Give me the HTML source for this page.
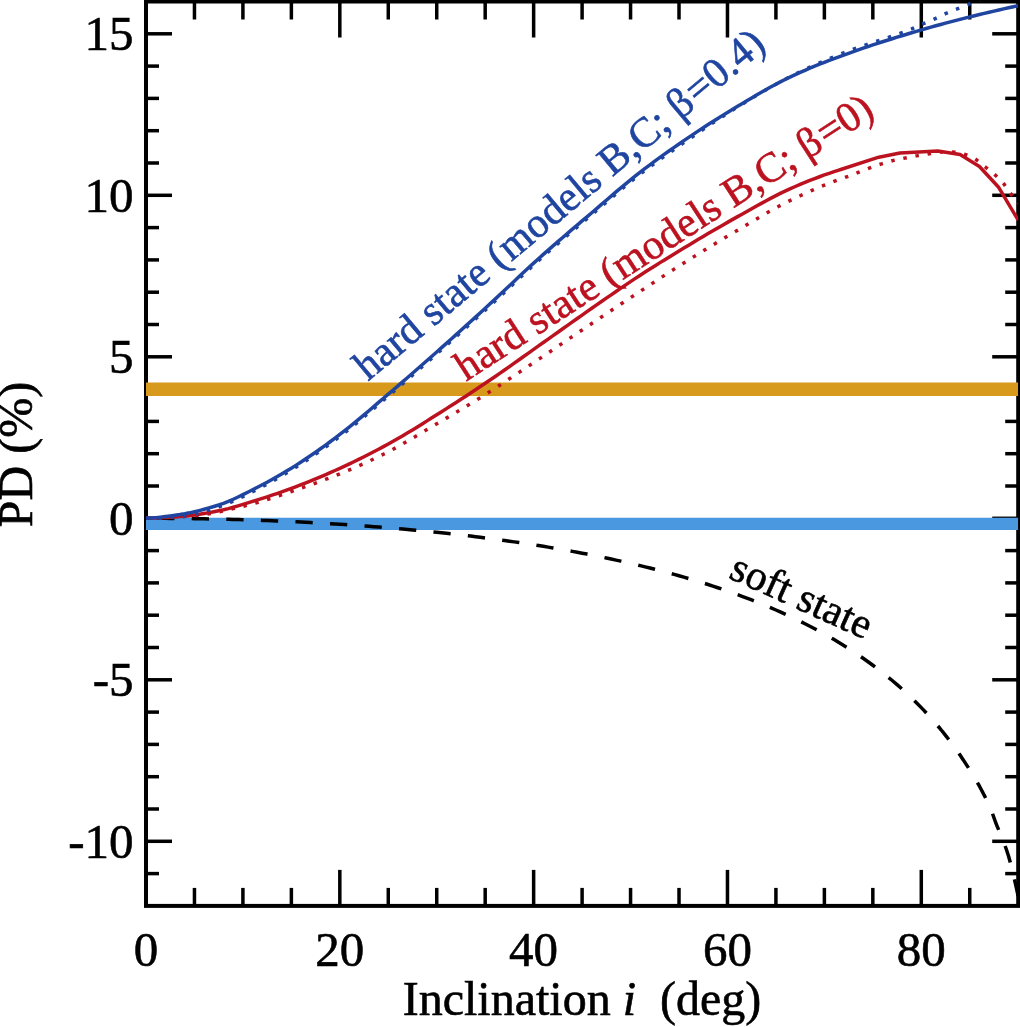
<!DOCTYPE html>
<html><head><meta charset="utf-8"><title>PD vs inclination</title>
<style>
html,body{margin:0;padding:0;background:#fff;}
svg{display:block;}
text{font-family:"Liberation Serif","DejaVu Serif",serif;}
</style></head>
<body>
<svg width="1020" height="1027" viewBox="0 0 1020 1027">
<rect width="1020" height="1027" fill="#fff"/>
<defs><clipPath id="plot"><rect x="146.00" y="1.50" width="872.20" height="904.40"/></clipPath></defs>
<g fill="none" stroke="#000" stroke-width="4">
<rect x="146.00" y="1.50" width="872.20" height="904.40"/>
</g>
<g fill="none" stroke="#000" stroke-width="3.5">
<line x1="194.46" y1="1.50" x2="194.46" y2="19.50"/><line x1="194.46" y1="905.90" x2="194.46" y2="887.90"/><line x1="242.91" y1="1.50" x2="242.91" y2="19.50"/><line x1="242.91" y1="905.90" x2="242.91" y2="887.90"/><line x1="291.37" y1="1.50" x2="291.37" y2="19.50"/><line x1="291.37" y1="905.90" x2="291.37" y2="887.90"/><line x1="339.82" y1="1.50" x2="339.82" y2="37.50"/><line x1="339.82" y1="905.90" x2="339.82" y2="869.90"/><line x1="388.28" y1="1.50" x2="388.28" y2="19.50"/><line x1="388.28" y1="905.90" x2="388.28" y2="887.90"/><line x1="436.73" y1="1.50" x2="436.73" y2="19.50"/><line x1="436.73" y1="905.90" x2="436.73" y2="887.90"/><line x1="485.19" y1="1.50" x2="485.19" y2="19.50"/><line x1="485.19" y1="905.90" x2="485.19" y2="887.90"/><line x1="533.64" y1="1.50" x2="533.64" y2="37.50"/><line x1="533.64" y1="905.90" x2="533.64" y2="869.90"/><line x1="582.10" y1="1.50" x2="582.10" y2="19.50"/><line x1="582.10" y1="905.90" x2="582.10" y2="887.90"/><line x1="630.56" y1="1.50" x2="630.56" y2="19.50"/><line x1="630.56" y1="905.90" x2="630.56" y2="887.90"/><line x1="679.01" y1="1.50" x2="679.01" y2="19.50"/><line x1="679.01" y1="905.90" x2="679.01" y2="887.90"/><line x1="727.47" y1="1.50" x2="727.47" y2="37.50"/><line x1="727.47" y1="905.90" x2="727.47" y2="869.90"/><line x1="775.92" y1="1.50" x2="775.92" y2="19.50"/><line x1="775.92" y1="905.90" x2="775.92" y2="887.90"/><line x1="824.38" y1="1.50" x2="824.38" y2="19.50"/><line x1="824.38" y1="905.90" x2="824.38" y2="887.90"/><line x1="872.83" y1="1.50" x2="872.83" y2="19.50"/><line x1="872.83" y1="905.90" x2="872.83" y2="887.90"/><line x1="921.29" y1="1.50" x2="921.29" y2="37.50"/><line x1="921.29" y1="905.90" x2="921.29" y2="869.90"/><line x1="969.74" y1="1.50" x2="969.74" y2="19.50"/><line x1="969.74" y1="905.90" x2="969.74" y2="887.90"/><line x1="146.00" y1="873.60" x2="159.00" y2="873.60"/><line x1="1018.20" y1="873.60" x2="1005.20" y2="873.60"/><line x1="146.00" y1="841.30" x2="172.00" y2="841.30"/><line x1="1018.20" y1="841.30" x2="992.20" y2="841.30"/><line x1="146.00" y1="809.00" x2="159.00" y2="809.00"/><line x1="1018.20" y1="809.00" x2="1005.20" y2="809.00"/><line x1="146.00" y1="776.70" x2="159.00" y2="776.70"/><line x1="1018.20" y1="776.70" x2="1005.20" y2="776.70"/><line x1="146.00" y1="744.40" x2="159.00" y2="744.40"/><line x1="1018.20" y1="744.40" x2="1005.20" y2="744.40"/><line x1="146.00" y1="712.10" x2="159.00" y2="712.10"/><line x1="1018.20" y1="712.10" x2="1005.20" y2="712.10"/><line x1="146.00" y1="679.80" x2="172.00" y2="679.80"/><line x1="1018.20" y1="679.80" x2="992.20" y2="679.80"/><line x1="146.00" y1="647.50" x2="159.00" y2="647.50"/><line x1="1018.20" y1="647.50" x2="1005.20" y2="647.50"/><line x1="146.00" y1="615.20" x2="159.00" y2="615.20"/><line x1="1018.20" y1="615.20" x2="1005.20" y2="615.20"/><line x1="146.00" y1="582.90" x2="159.00" y2="582.90"/><line x1="1018.20" y1="582.90" x2="1005.20" y2="582.90"/><line x1="146.00" y1="550.60" x2="159.00" y2="550.60"/><line x1="1018.20" y1="550.60" x2="1005.20" y2="550.60"/><line x1="146.00" y1="518.30" x2="172.00" y2="518.30"/><line x1="1018.20" y1="518.30" x2="992.20" y2="518.30"/><line x1="146.00" y1="486.00" x2="159.00" y2="486.00"/><line x1="1018.20" y1="486.00" x2="1005.20" y2="486.00"/><line x1="146.00" y1="453.70" x2="159.00" y2="453.70"/><line x1="1018.20" y1="453.70" x2="1005.20" y2="453.70"/><line x1="146.00" y1="421.40" x2="159.00" y2="421.40"/><line x1="1018.20" y1="421.40" x2="1005.20" y2="421.40"/><line x1="146.00" y1="389.10" x2="159.00" y2="389.10"/><line x1="1018.20" y1="389.10" x2="1005.20" y2="389.10"/><line x1="146.00" y1="356.80" x2="172.00" y2="356.80"/><line x1="1018.20" y1="356.80" x2="992.20" y2="356.80"/><line x1="146.00" y1="324.50" x2="159.00" y2="324.50"/><line x1="1018.20" y1="324.50" x2="1005.20" y2="324.50"/><line x1="146.00" y1="292.20" x2="159.00" y2="292.20"/><line x1="1018.20" y1="292.20" x2="1005.20" y2="292.20"/><line x1="146.00" y1="259.90" x2="159.00" y2="259.90"/><line x1="1018.20" y1="259.90" x2="1005.20" y2="259.90"/><line x1="146.00" y1="227.60" x2="159.00" y2="227.60"/><line x1="1018.20" y1="227.60" x2="1005.20" y2="227.60"/><line x1="146.00" y1="195.30" x2="172.00" y2="195.30"/><line x1="1018.20" y1="195.30" x2="992.20" y2="195.30"/><line x1="146.00" y1="163.00" x2="159.00" y2="163.00"/><line x1="1018.20" y1="163.00" x2="1005.20" y2="163.00"/><line x1="146.00" y1="130.70" x2="159.00" y2="130.70"/><line x1="1018.20" y1="130.70" x2="1005.20" y2="130.70"/><line x1="146.00" y1="98.40" x2="159.00" y2="98.40"/><line x1="1018.20" y1="98.40" x2="1005.20" y2="98.40"/><line x1="146.00" y1="66.10" x2="159.00" y2="66.10"/><line x1="1018.20" y1="66.10" x2="1005.20" y2="66.10"/><line x1="146.00" y1="33.80" x2="172.00" y2="33.80"/><line x1="1018.20" y1="33.80" x2="992.20" y2="33.80"/>
</g>
<g fill="none" clip-path="url(#plot)" stroke-linejoin="round">
<line x1="146.0" y1="389.25" x2="1018.2" y2="389.25" stroke="#D79A1D" stroke-width="13.3"/>
<line x1="146.0" y1="523.9" x2="1018.2" y2="523.9" stroke="#4A98DF" stroke-width="12.2"/>
<path d="M146.00,518.30 L150.85,518.30 L155.69,518.31 L160.54,518.33 L165.38,518.36 L170.23,518.39 L175.07,518.43 L179.92,518.48 L184.76,518.53 L189.61,518.59 L194.46,518.66 L199.30,518.74 L204.15,518.82 L208.99,518.91 L213.84,519.01 L218.68,519.12 L223.53,519.23 L228.37,519.35 L233.22,519.48 L238.07,519.61 L242.91,519.76 L247.76,519.91 L252.60,520.07 L257.45,520.23 L262.29,520.41 L267.14,520.59 L271.98,520.78 L276.83,520.97 L281.68,521.18 L286.52,521.39 L291.37,521.61 L296.21,521.84 L301.06,522.08 L305.90,522.32 L310.75,522.58 L315.59,522.84 L320.44,523.11 L325.29,523.39 L330.13,523.67 L334.98,523.97 L339.82,524.27 L344.67,524.58 L349.51,524.91 L354.36,525.24 L359.20,525.57 L364.05,525.92 L368.90,526.28 L373.74,526.65 L378.59,527.02 L383.43,527.41 L388.28,527.80 L393.12,528.21 L397.97,528.62 L402.81,529.05 L407.66,529.48 L412.51,529.93 L417.35,530.39 L422.20,530.85 L427.04,531.33 L431.89,531.82 L436.73,532.32 L441.58,532.83 L446.42,533.35 L451.27,533.88 L456.12,534.42 L460.96,534.97 L465.81,535.54 L470.65,536.11 L475.50,536.70 L480.34,537.30 L485.19,537.92 L490.03,538.54 L494.88,539.18 L499.73,539.83 L504.57,540.50 L509.42,541.18 L514.26,541.87 L519.11,542.58 L523.95,543.30 L528.80,544.03 L533.64,544.78 L538.49,545.55 L543.34,546.33 L548.18,547.13 L553.03,547.94 L557.87,548.77 L562.72,549.61 L567.56,550.47 L572.41,551.35 L577.25,552.24 L582.10,553.16 L586.95,554.09 L591.79,555.04 L596.64,556.01 L601.48,557.00 L606.33,558.01 L611.17,559.04 L616.02,560.09 L620.86,561.16 L625.71,562.26 L630.56,563.37 L635.40,564.50 L640.25,565.66 L645.09,566.84 L649.94,568.04 L654.78,569.27 L659.63,570.52 L664.47,571.80 L669.32,573.10 L674.17,574.43 L679.01,575.78 L683.86,577.17 L688.70,578.58 L693.55,580.02 L698.39,581.50 L703.24,583.00 L708.08,584.54 L712.93,586.12 L717.78,587.72 L722.62,589.36 L727.47,591.04 L732.31,592.75 L737.16,594.50 L742.00,596.29 L746.85,598.11 L751.69,599.98 L756.54,601.90 L761.39,603.85 L766.23,605.86 L771.08,607.91 L775.92,610.01 L780.77,612.17 L785.61,614.37 L790.46,616.62 L795.30,618.93 L800.15,621.29 L805.00,623.71 L809.84,626.19 L814.69,628.74 L819.53,631.35 L824.38,634.03 L829.22,636.78 L834.07,639.61 L838.91,642.51 L843.76,645.49 L848.61,648.56 L853.45,651.71 L858.30,654.94 L863.14,658.27 L867.99,661.70 L872.83,665.23 L877.68,668.88 L882.52,672.64 L887.37,676.52 L892.22,680.52 L897.06,684.66 L901.91,688.94 L906.75,693.38 L911.60,697.96 L916.44,702.70 L921.29,707.61 L922.26,708.61 L923.23,709.63 L924.20,710.65 L925.17,711.68 L926.13,712.71 L927.10,713.76 L928.07,714.81 L929.04,715.88 L930.01,716.95 L930.98,718.03 L931.95,719.12 L932.92,720.22 L933.89,721.33 L934.86,722.45 L935.83,723.57 L936.79,724.71 L937.76,725.85 L938.73,727.00 L939.70,728.16 L940.67,729.33 L941.64,730.51 L942.61,731.70 L943.58,732.90 L944.55,734.11 L945.52,735.33 L946.49,736.56 L947.45,737.80 L948.42,739.06 L949.39,740.32 L950.36,741.60 L951.33,742.89 L952.30,744.19 L953.27,745.51 L954.24,746.84 L955.21,748.18 L956.18,749.54 L957.15,750.91 L958.12,752.29 L959.08,753.69 L960.05,755.11 L961.02,756.54 L961.99,757.98 L962.96,759.44 L963.93,760.91 L964.90,762.39 L965.87,763.87 L966.84,765.36 L967.81,766.86 L968.78,768.37 L969.74,769.90 L970.71,771.44 L971.68,773.00 L972.65,774.57 L973.62,776.17 L974.59,777.78 L975.56,779.42 L976.53,781.08 L977.50,782.76 L978.47,784.47 L979.44,786.21 L980.40,787.98 L981.37,789.78 L982.34,791.61 L983.31,793.47 L984.28,795.37 L985.25,797.31 L986.22,799.28 L987.19,801.29 L988.16,803.35 L989.13,805.44 L990.10,807.58 L991.06,809.83 L992.03,812.33 L993.00,815.00 L993.97,817.75 L994.94,820.47 L995.91,823.07 L996.88,825.56 L997.85,827.97 L998.82,830.32 L999.79,832.64 L1000.76,834.96 L1001.73,837.29 L1002.69,839.66 L1003.66,842.10 L1004.63,844.62 L1005.60,847.26 L1006.57,850.03 L1007.54,852.97 L1008.51,856.08 L1009.48,859.40 L1010.45,862.92 L1011.42,866.62 L1012.39,870.49 L1013.35,874.52 L1014.32,878.70 L1015.29,883.01 L1016.26,887.44 L1017.23,891.99 L1018.20,896.63" stroke="#000" stroke-width="3.5" stroke-dasharray="17.3 17.3" stroke-dashoffset="23.5"/>
<path d="M146.00,518.30 L150.85,518.26 L155.69,518.16 L160.54,518.00 L165.38,517.78 L170.23,517.51 L175.07,517.21 L179.92,516.87 L184.76,516.50 L189.61,516.12 L194.46,515.72 L199.30,515.23 L204.15,514.59 L208.99,513.82 L213.84,512.94 L218.68,511.96 L223.53,510.91 L228.37,509.81 L233.22,508.66 L238.07,507.51 L242.91,506.35 L247.76,505.15 L252.60,503.85 L257.45,502.47 L262.29,501.02 L267.14,499.51 L271.98,497.95 L276.83,496.36 L281.68,494.74 L286.52,493.12 L291.37,491.49 L296.21,489.86 L301.06,488.20 L305.90,486.52 L310.75,484.81 L315.59,483.07 L320.44,481.29 L325.29,479.48 L330.13,477.64 L334.98,475.75 L339.82,473.83 L344.67,471.86 L349.51,469.85 L354.36,467.78 L359.20,465.66 L364.05,463.48 L368.90,461.25 L373.74,458.96 L378.59,456.61 L383.43,454.22 L388.28,451.76 L393.12,449.22 L397.97,446.58 L402.81,443.86 L407.66,441.07 L412.51,438.23 L417.35,435.35 L422.20,432.46 L427.04,429.57 L431.89,426.70 L436.73,423.85 L441.58,421.00 L446.42,418.13 L451.27,415.26 L456.12,412.38 L460.96,409.47 L465.81,406.55 L470.65,403.60 L475.50,400.63 L480.34,397.63 L485.19,394.59 L490.03,391.51 L494.88,388.39 L499.73,385.23 L504.57,382.05 L509.42,378.83 L514.26,375.60 L519.11,372.36 L523.95,369.11 L528.80,365.86 L533.64,362.62 L538.49,359.38 L543.34,356.13 L548.18,352.87 L553.03,349.60 L557.87,346.33 L562.72,343.05 L567.56,339.78 L572.41,336.51 L577.25,333.24 L582.10,329.99 L586.95,326.74 L591.79,323.49 L596.64,320.25 L601.48,317.00 L606.33,313.76 L611.17,310.52 L616.02,307.29 L620.86,304.07 L625.71,300.86 L630.56,297.65 L635.40,294.46 L640.25,291.27 L645.09,288.09 L649.94,284.91 L654.78,281.73 L659.63,278.56 L664.47,275.40 L669.32,272.26 L674.17,269.14 L679.01,266.03 L683.86,262.95 L688.70,259.90 L693.55,256.87 L698.39,253.86 L703.24,250.87 L708.08,247.89 L712.93,244.94 L717.78,242.00 L722.62,239.08 L727.47,236.18 L732.31,233.30 L737.16,230.43 L742.00,227.57 L746.85,224.68 L751.69,221.78 L756.54,218.90 L761.39,216.04 L766.23,213.22 L771.08,210.46 L775.92,207.79 L780.77,205.20 L785.61,202.73 L790.46,200.34 L795.30,198.00 L800.15,195.72 L805.00,193.48 L809.84,191.30 L814.69,189.18 L819.53,187.11 L824.38,185.11 L829.22,183.16 L834.07,181.28 L838.91,179.51 L843.76,177.89 L848.61,176.17 L853.45,174.29 L858.30,172.33 L863.14,170.39 L867.99,168.54 L872.83,166.83 L877.68,165.15 L882.52,163.54 L887.37,162.06 L892.22,160.74 L897.06,159.62 L901.91,158.64 L906.75,157.68 L911.60,156.77 L916.44,155.89 L921.29,155.06 L926.13,154.27 L930.98,153.42 L935.83,152.47 L940.67,152.02 L945.52,152.02 L950.36,152.02 L955.21,152.21 L960.05,153.13 L964.90,154.34 L969.74,156.11 L974.59,158.48 L979.44,162.04 L984.28,166.23 L989.13,170.01 L993.97,173.98 L998.82,178.33 L1003.66,183.58 L1008.51,190.70 L1013.35,197.12 L1018.20,203.38" stroke="#BC1220" stroke-width="3.5" stroke-dasharray="3.5 8.8"/>
<path d="M146.00,518.30 L150.85,518.23 L155.69,518.09 L160.54,517.87 L165.38,517.61 L170.23,517.30 L175.07,516.96 L179.92,516.61 L184.76,516.18 L189.61,515.64 L194.46,515.00 L199.30,514.28 L204.15,513.49 L208.99,512.64 L213.84,511.74 L218.68,510.81 L223.53,509.78 L228.37,508.60 L233.22,507.30 L238.07,505.90 L242.91,504.44 L247.76,502.93 L252.60,501.40 L257.45,499.89 L262.29,498.37 L267.14,496.81 L271.98,495.20 L276.83,493.56 L281.68,491.87 L286.52,490.15 L291.37,488.38 L296.21,486.58 L301.06,484.73 L305.90,482.84 L310.75,480.89 L315.59,478.90 L320.44,476.87 L325.29,474.79 L330.13,472.67 L334.98,470.52 L339.82,468.32 L344.67,466.09 L349.51,463.81 L354.36,461.49 L359.20,459.12 L364.05,456.71 L368.90,454.26 L373.74,451.76 L378.59,449.22 L383.43,446.63 L388.28,444.00 L393.12,441.32 L397.97,438.56 L402.81,435.73 L407.66,432.84 L412.51,429.90 L417.35,426.91 L422.20,423.90 L427.04,420.86 L431.89,417.81 L436.73,414.75 L441.58,411.70 L446.42,408.64 L451.27,405.55 L456.12,402.44 L460.96,399.32 L465.81,396.16 L470.65,392.99 L475.50,389.79 L480.34,386.57 L485.19,383.33 L490.03,380.06 L494.88,376.75 L499.73,373.40 L504.57,370.02 L509.42,366.61 L514.26,363.18 L519.11,359.73 L523.95,356.28 L528.80,352.83 L533.64,349.38 L538.49,345.94 L543.34,342.52 L548.18,339.09 L553.03,335.65 L557.87,332.21 L562.72,328.76 L567.56,325.32 L572.41,321.89 L577.25,318.47 L582.10,315.06 L586.95,311.67 L591.79,308.29 L596.64,304.92 L601.48,301.55 L606.33,298.18 L611.17,294.82 L616.02,291.48 L620.86,288.16 L625.71,284.86 L630.56,281.61 L635.40,278.39 L640.25,275.22 L645.09,272.09 L649.94,268.99 L654.78,265.93 L659.63,262.89 L664.47,259.89 L669.32,256.90 L674.17,253.94 L679.01,251.00 L683.86,248.07 L688.70,245.15 L693.55,242.25 L698.39,239.35 L703.24,236.47 L708.08,233.61 L712.93,230.76 L717.78,227.94 L722.62,225.14 L727.47,222.36 L732.31,219.61 L737.16,216.89 L742.00,214.20 L746.85,211.48 L751.69,208.76 L756.54,206.05 L761.39,203.36 L766.23,200.70 L771.08,198.11 L775.92,195.59 L780.77,193.15 L785.61,190.83 L790.46,188.63 L795.30,186.51 L800.15,184.44 L805.00,182.42 L809.84,180.47 L814.69,178.57 L819.53,176.74 L824.38,174.97 L829.22,173.28 L834.07,171.66 L838.91,170.11 L839.98,169.78 L878.84,157.19 L899.97,152.99 L937.76,151.05 L960.05,154.60 L979.44,166.55 L998.82,187.55 L1018.20,220.17" stroke="#BC1220" stroke-width="3.5"/>
<path d="M146.00,518.30 L150.85,518.25 L155.69,518.12 L160.54,517.92 L165.38,517.66 L170.23,517.34 L175.07,516.99 L179.92,516.60 L184.76,516.01 L189.61,515.16 L194.46,514.09 L199.30,512.85 L204.15,511.47 L208.99,509.99 L213.84,508.45 L218.68,506.90 L223.53,505.21 L228.37,503.30 L233.22,501.21 L238.07,498.96 L242.91,496.60 L247.76,494.17 L252.60,491.70 L257.45,489.23 L262.29,486.73 L267.14,484.14 L271.98,481.48 L276.83,478.73 L281.68,475.91 L286.52,473.02 L291.37,470.07 L296.21,467.05 L301.06,463.96 L305.90,460.77 L310.75,457.50 L315.59,454.15 L320.44,450.73 L325.29,447.24 L330.13,443.68 L334.98,440.07 L339.82,436.41 L344.67,432.66 L349.51,428.82 L354.36,424.88 L359.20,420.88 L364.05,416.81 L368.90,412.70 L373.74,408.55 L378.59,404.39 L383.43,400.23 L388.28,396.08 L393.12,391.94 L397.97,387.79 L402.81,383.62 L407.66,379.42 L412.51,375.21 L417.35,370.98 L422.20,366.73 L427.04,362.47 L431.89,358.20 L436.73,353.91 L441.58,349.61 L446.42,345.29 L451.27,340.96 L456.12,336.60 L460.96,332.24 L465.81,327.86 L470.65,323.46 L475.50,319.05 L480.34,314.63 L485.19,310.21 L490.03,305.77 L494.88,301.30 L499.73,296.78 L504.57,292.24 L509.42,287.67 L514.26,283.10 L519.11,278.54 L523.95,274.00 L528.80,269.50 L533.64,265.04 L538.49,260.65 L543.34,256.32 L548.18,252.03 L553.03,247.79 L557.87,243.59 L562.72,239.41 L567.56,235.25 L572.41,231.12 L577.25,227.00 L582.10,222.88 L586.95,218.77 L591.79,214.64 L596.64,210.50 L601.48,206.33 L606.33,202.16 L611.17,198.00 L616.02,193.87 L620.86,189.77 L625.71,185.73 L630.56,181.76 L635.40,177.87 L640.25,174.08 L645.09,170.38 L649.94,166.74 L654.78,163.17 L659.63,159.65 L664.47,156.18 L669.32,152.76 L674.17,149.36 L679.01,146.00 L683.86,142.65 L688.70,139.32 L693.55,135.99 L698.39,132.68 L703.24,129.39 L708.08,126.12 L712.93,122.88 L717.78,119.67 L722.62,116.49 L727.47,113.36 L732.31,110.28 L737.16,107.24 L742.00,104.26 L746.85,101.29 L751.69,98.35 L756.54,95.43 L761.39,92.54 L766.23,89.71 L771.08,86.92 L775.92,84.21 L780.77,81.56 L785.61,78.99 L790.46,76.52 L795.30,74.11 L800.15,71.76 L805.00,69.46 L809.84,67.21 L814.69,65.02 L819.53,62.87 L824.38,60.77 L829.22,58.71 L834.07,56.70 L838.91,54.73 L843.76,52.80 L848.61,50.95 L853.45,49.17 L858.30,47.47 L863.14,45.82 L867.99,44.20 L872.83,42.61 L877.68,41.03 L882.52,39.44 L887.37,37.83 L892.22,36.18 L897.06,34.49 L901.91,32.73 L906.75,30.89 L911.60,28.95 L916.44,26.79 L921.29,24.54 L926.13,22.49 L930.98,20.52 L935.83,18.36 L940.67,15.95 L945.52,13.67 L950.36,11.61 L955.21,9.64 L960.05,7.73 L964.90,5.88 L969.74,3.94 L974.59,1.92 L979.44,-0.12 L984.28,-2.13 L989.13,-4.15 L993.97,-6.17 L998.82,-8.19 L1003.66,-10.21 L1008.51,-12.23 L1013.35,-14.25 L1018.20,-16.26" stroke="#1F45A1" stroke-width="3.5" stroke-dasharray="3.5 8.8"/>
<path d="M146.00,518.30 L150.85,518.02 L155.69,517.64 L160.54,517.16 L165.38,516.61 L170.23,515.98 L175.07,515.31 L179.92,514.60 L184.76,513.78 L189.61,512.84 L194.46,511.77 L199.30,510.59 L204.15,509.30 L208.99,507.93 L213.84,506.48 L218.68,504.96 L223.53,503.28 L228.37,501.37 L233.22,499.27 L238.07,497.02 L242.91,494.66 L247.76,492.23 L252.60,489.76 L257.45,487.29 L262.29,484.79 L267.14,482.20 L271.98,479.54 L276.83,476.79 L281.68,473.97 L286.52,471.08 L291.37,468.13 L296.21,465.11 L301.06,462.02 L305.90,458.83 L310.75,455.57 L315.59,452.22 L320.44,448.79 L325.29,445.30 L330.13,441.75 L334.98,438.13 L339.82,434.47 L344.67,430.73 L349.51,426.88 L354.36,422.95 L359.20,418.94 L364.05,414.87 L368.90,410.76 L373.74,406.62 L378.59,402.45 L383.43,398.29 L388.28,394.14 L393.12,390.01 L397.97,385.85 L402.81,381.68 L407.66,377.48 L412.51,373.27 L417.35,369.04 L422.20,364.80 L427.04,360.53 L431.89,356.26 L436.73,351.97 L441.58,347.67 L446.42,343.35 L451.27,339.02 L456.12,334.67 L460.96,330.30 L465.81,325.92 L470.65,321.52 L475.50,317.12 L480.34,312.70 L485.19,308.27 L490.03,303.83 L494.88,299.36 L499.73,294.84 L504.57,290.30 L509.42,285.73 L514.26,281.16 L519.11,276.60 L523.95,272.06 L528.80,267.56 L533.64,263.10 L538.49,258.71 L543.34,254.38 L548.18,250.10 L553.03,245.85 L557.87,241.65 L562.72,237.47 L567.56,233.32 L572.41,229.18 L577.25,225.06 L582.10,220.94 L586.95,216.83 L591.79,212.71 L596.64,208.56 L601.48,204.39 L606.33,200.22 L611.17,196.06 L616.02,191.93 L620.86,187.84 L625.71,183.79 L630.56,179.82 L635.40,175.93 L640.25,172.14 L645.09,168.43 L649.94,164.78 L654.78,161.19 L659.63,157.65 L664.47,154.16 L669.32,150.72 L674.17,147.32 L679.01,143.96 L683.86,140.65 L688.70,137.36 L693.55,134.11 L698.39,130.90 L703.24,127.72 L708.08,124.58 L712.93,121.48 L717.78,118.41 L722.62,115.38 L727.47,112.39 L732.31,109.44 L737.16,106.53 L742.00,103.66 L746.85,100.79 L751.69,97.93 L756.54,95.09 L761.39,92.28 L766.23,89.52 L771.08,86.82 L775.92,84.19 L780.77,81.65 L785.61,79.20 L790.46,76.85 L795.30,74.60 L800.15,72.41 L805.00,70.28 L809.84,68.22 L814.69,66.20 L819.53,64.24 L824.38,62.32 L829.22,60.44 L834.07,58.61 L838.91,56.80 L843.76,55.03 L848.61,53.28 L853.45,51.56 L858.30,49.87 L863.14,48.21 L867.99,46.56 L872.83,44.95 L877.68,43.35 L882.52,41.78 L887.37,40.23 L892.22,38.71 L897.06,37.20 L901.91,35.71 L906.75,34.24 L911.60,32.78 L916.44,31.35 L921.29,29.92 L926.13,28.52 L930.98,27.15 L935.83,25.80 L940.67,24.47 L945.52,23.16 L950.36,21.88 L955.21,20.61 L960.05,19.36 L964.90,18.13 L969.74,16.92 L974.59,15.72 L979.44,14.54 L984.28,13.38 L989.13,12.23 L993.97,11.10 L998.82,9.98 L1003.66,8.88 L1008.51,7.80 L1013.35,6.74 L1018.20,5.70" stroke="#1F45A1" stroke-width="3.5"/>
</g>
<g font-size="49" fill="#000" stroke="#000" stroke-width="0.6">
<text x="133.5" y="50.3" text-anchor="end">15</text><text x="133.5" y="211.8" text-anchor="end">10</text><text x="133.5" y="373.3" text-anchor="end">5</text><text x="133.5" y="534.8" text-anchor="end">0</text><text x="133.5" y="696.3" text-anchor="end">-5</text><text x="133.5" y="857.8" text-anchor="end">-10</text>
<text x="146.0" y="965.5" text-anchor="middle">0</text><text x="339.8" y="965.5" text-anchor="middle">20</text><text x="533.6" y="965.5" text-anchor="middle">40</text><text x="727.5" y="965.5" text-anchor="middle">60</text><text x="921.3" y="965.5" text-anchor="middle">80</text>
<text x="582" y="1015.4" font-size="48" text-anchor="middle" xml:space="preserve">Inclination <tspan font-style="italic">i</tspan>  (deg)</text>
<text transform="translate(32,454.5) rotate(-90)" font-size="48" text-anchor="middle">PD (%)</text>
</g>
<g font-size="42" stroke-width="0.6">
<text transform="translate(368.1,381.6) rotate(-39.9)" fill="#1F45A1" stroke="#1F45A1">hard state (models B,C; β<tspan dx="2">=</tspan>0.4)</text>
<text transform="translate(466.1,381.8) rotate(-33)" fill="#BC1220" stroke="#BC1220">hard state (models B,C; β<tspan dx="2">=</tspan>0)</text>
<text transform="translate(727.5,577.5) rotate(24.3)" fill="#000" stroke="#000">soft state</text>
</g>
</svg>
</body></html>
